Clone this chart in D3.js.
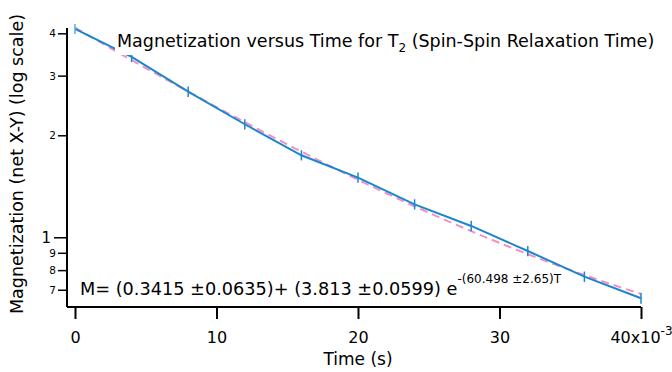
<!DOCTYPE html>
<html>
<head>
<meta charset="utf-8">
<script src="https://cdn.jsdelivr.net/npm/d3@7"></script>
<style>
  body { margin: 0; background: #fff; }
  svg { font-family: "DejaVu Sans", Verdana, sans-serif; }
</style>
</head>
<body>
<svg id="chart" width="672" height="372"></svg>
<script>
// data (time in seconds)
var times = [0, 0.004, 0.008, 0.012, 0.016, 0.020, 0.024, 0.028, 0.032, 0.036, 0.040];
var magnet = [4.12, 3.41, 2.69, 2.156, 1.746, 1.50, 1.251, 1.080, 0.911, 0.765, 0.661];
var errs = [0.14, 0.12, 0.095, 0.075, 0.06, 0.052, 0.044, 0.038, 0.032, 0.027, 0.024];

// fit parameters M = y0 + A exp(-k T)
var fitY0 = 0.3415, fitA = 3.813, fitK = 60.498;

var xTicks = [0, 0.01, 0.02, 0.03, 0.04];
var xTickLabels = ["0", "10", "20", "30", "40x10"];
var yTicks = [0.7, 0.8, 0.9, 1, 2, 3, 4];
var yTickLabels = ["7", "8", "9", "1", "2", "3", "4"];
var yDecades = [1];

var svg = d3.select("#chart");
// plot box (don't use "top", it clashes with window.top)
var pLeft = 67, pRight = 641, pTop = 28, pBottom = 307;

var x = d3.scaleLinear().domain([-0.000565, 0.04]).range([pLeft, pRight]);
var y = d3.scaleLog().domain([0.6226, 4.147]).range([pBottom, pTop]);

var blue = "#1a86cf", lightBlue = "#4fb0ea", pink = "#f48fc2";

// fit curve (from the fit formula)
var fitTimes = d3.range(0, 0.0401, 0.0005);
svg.append("path")
    .datum(fitTimes)
    .attr("fill", "none")
    .attr("stroke", pink)
    .attr("stroke-width", 2)
    .attr("stroke-dasharray", "8,5")
    .attr("d", d3.line()
        .x(function(t){ return x(t); })
        .y(function(t){ return y(fitY0 + fitA * Math.exp(-fitK * t)); }));

// data line
svg.append("path")
    .datum(times)
    .attr("fill", "none")
    .attr("stroke", blue)
    .attr("stroke-width", 2)
    .attr("d", d3.line()
        .x(function(t){ return x(t); })
        .y(function(t, i){ return y(magnet[i]); }));

// error bars
svg.selectAll(".err")
    .data(times)
    .enter().append("line")
    .attr("class", "err")
    .attr("x1", function(t){ return x(t); })
    .attr("x2", function(t){ return x(t); })
    .attr("y1", function(t, i){ return y(magnet[i] - errs[i]); })
    .attr("y2", function(t, i){ return y(magnet[i] + errs[i]); })
    .attr("stroke", function(t, i){ return i == 0 ? lightBlue : blue; })
    .attr("stroke-width", 1.5);

// title with white box behind it
var title = svg.append("text")
    .attr("x", 117)
    .attr("y", 47)
    .attr("font-size", 17.5)
    .attr("fill", "#000");
title.append("tspan").text("Magnetization versus Time for T");
title.append("tspan").attr("font-size", 12).attr("dy", 5).text("2");
title.append("tspan").attr("dy", -5).text(" (Spin-Spin Relaxation Time)");
var bb = title.node().getBBox();
svg.insert("rect", "text")
    .attr("x", bb.x - 2).attr("y", bb.y)
    .attr("width", bb.width + 4).attr("height", bb.height)
    .attr("fill", "#fff");

// formula text
var formula = svg.append("text")
    .attr("x", 80)
    .attr("y", 295)
    .attr("font-size", 17.7)
    .attr("fill", "#000");
formula.append("tspan").text("M= (0.3415 \u00b10.0635)+ (3.813 \u00b10.0599) e");
formula.append("tspan").attr("font-size", 12).attr("dy", -12).text("-(60.498 \u00b12.65)T");

// x axis
var xAxis = d3.axisBottom(x)
    .tickValues(xTicks)
    .tickSize(12)
    .tickSizeOuter(0)
    .tickPadding(13)
    .tickFormat(function(d, i){ return xTickLabels[i]; });
var gx = svg.append("g")
    .attr("transform", "translate(0," + pBottom + ")")
    .call(xAxis);
gx.select(".domain").attr("stroke-width", 2).attr("d", "M" + pLeft + ",0H" + pRight);
gx.selectAll(".tick line").attr("stroke-width", 2);
gx.selectAll(".tick text").attr("font-size", 16).attr("font-family", "DejaVu Sans, sans-serif");
// exponent on the last label
gx.selectAll(".tick text").filter(function(d){ return d == 0.04; })
    .append("tspan").attr("font-size", 12).attr("dy", "-0.7em").text("-3");

// y axis
var yAxis = d3.axisLeft(y)
    .tickValues(yTicks)
    .tickSize(9)
    .tickSizeOuter(0)
    .tickPadding(2)
    .tickFormat(function(d, i){ return yTickLabels[i]; });
var gy = svg.append("g")
    .attr("transform", "translate(" + pLeft + ",0)")
    .call(yAxis);
gy.select(".domain").attr("stroke-width", 2).attr("d", "M0," + pTop + "V" + pBottom);
gy.selectAll(".tick line").attr("stroke-width", 1.5)
    .attr("x2", function(d){ return yDecades.indexOf(d) >= 0 ? -13 : -9; });
gy.selectAll(".tick text")
    .attr("font-family", "DejaVu Sans, sans-serif")
    .attr("x", function(d){ return yDecades.indexOf(d) >= 0 ? -16 : -11; })
    .attr("font-size", function(d){ return yDecades.indexOf(d) >= 0 ? 15 : 10.5; });

// axis titles
svg.append("text")
    .attr("x", x(0.02))
    .attr("y", 365)
    .attr("text-anchor", "middle")
    .attr("font-size", 17)
    .text("Time (s)");

svg.append("text")
    .attr("transform", "translate(23,164) rotate(-90)")
    .attr("text-anchor", "middle")
    .attr("font-size", 17.5)
    .text("Magnetization (net X-Y) (log scale)");
</script>
</body>
</html>
